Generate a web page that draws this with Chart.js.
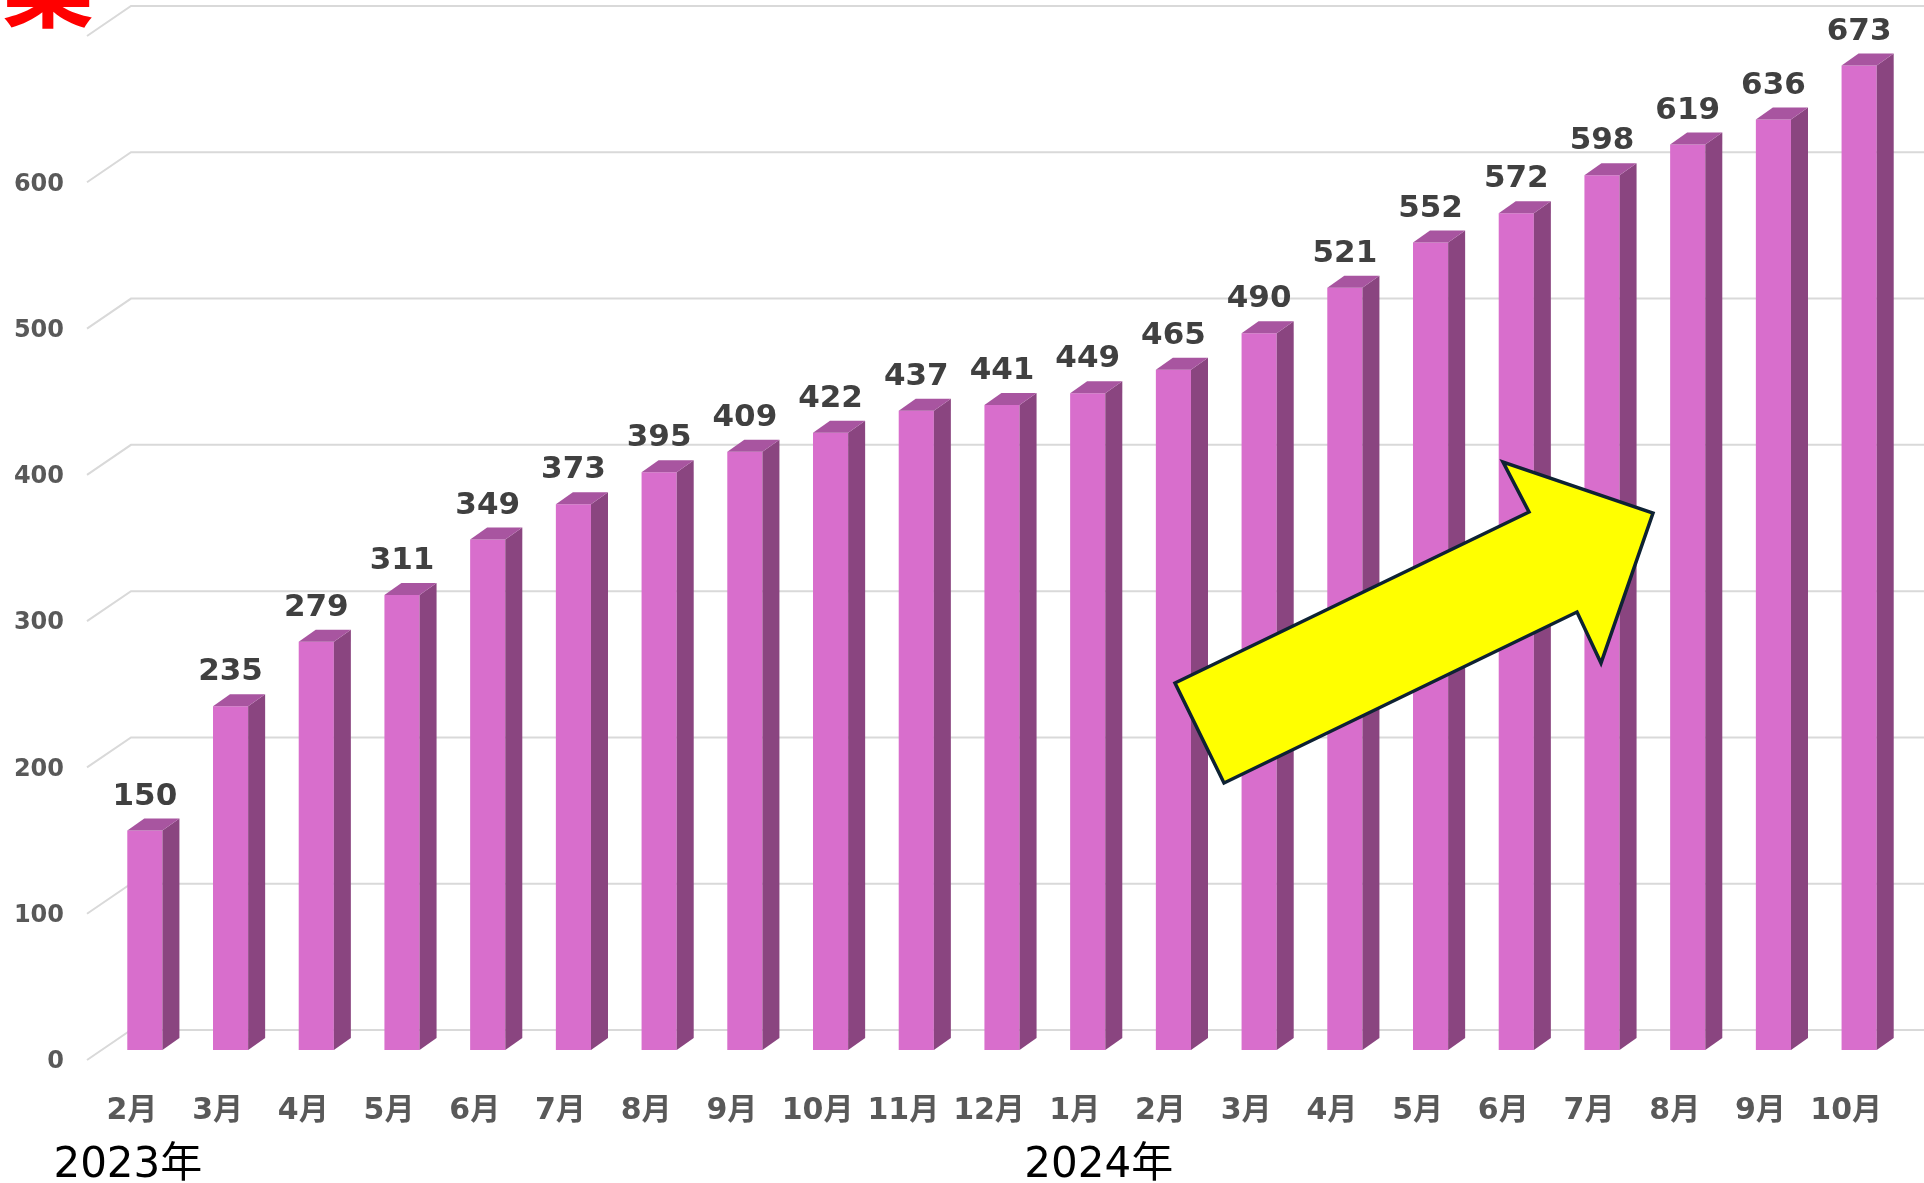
<!DOCTYPE html>
<html>
<head>
<meta charset="utf-8">
<script src="https://cdn.jsdelivr.net/npm/chart.js@4"></script>
<style>
  html, body { margin: 0; padding: 0; background: #fff; }
  #wrap { width: 1924px; height: 1183px; position: relative; }
</style>
</head>
<body>
<div id="wrap"><canvas id="barChart" width="1924" height="1183"></canvas></div>
<script>
// data
const months = ['2月', '3月', '4月', '5月', '6月', '7月', '8月', '9月', '10月', '11月', '12月',
  '1月', '2月', '3月', '4月', '5月', '6月', '7月', '8月', '9月', '10月'];
const counts = [150, 235, 279, 311, 349, 373, 395, 409, 422, 437, 441,
  449, 465, 490, 521, 552, 572, 598, 619, 636, 673];
const yearLabels = ['2023年', '2024年'];
const yearStartIdx = [0, 11];
const yTicks = [0, 100, 200, 300, 400, 500, 600];
const yMax = 700;

const frontColor = '#D86ECC';
const sideColor = '#8A4580';
const topColor = '#A855A0';
const gridColor = '#D9D9D9';
const DEPTH_X = 17, DEPTH_Y = 12;   // bar depth
const WALL_X = 44, WALL_Y = 30;     // floor / side wall depth

const numFont = '"DejaVu Sans", "Noto Sans CJK JP", sans-serif';

// back wall gridlines + slanted side wall + tick labels
const wallPlugin = {
  id: 'wall',
  beforeDatasetsDraw(chart) {
    const { ctx, scales: { y } } = chart;
    const x0 = 87;
    ctx.save();
    ctx.strokeStyle = gridColor;
    ctx.lineWidth = 2;
    [...yTicks, yMax].forEach(v => {
      const py = y.getPixelForValue(v);
      ctx.beginPath();
      ctx.moveTo(x0, py + 10);
      ctx.lineTo(x0 + WALL_X, py + 10 - WALL_Y);
      ctx.lineTo(chart.width, py + 10 - WALL_Y);
      ctx.stroke();
    });
    ctx.fillStyle = '#595959';
    ctx.font = 'bold 24px ' + numFont;
    ctx.textAlign = 'right';
    ctx.textBaseline = 'middle';
    yTicks.forEach(v => {
      ctx.fillText(String(v), 64, y.getPixelForValue(v) + 12);
    });
    ctx.restore();
  }
};

// side + top faces, value labels, category labels
const barsPlugin = {
  id: 'bars3d',
  afterDatasetsDraw(chart) {
    const { ctx } = chart;
    const meta = chart.getDatasetMeta(0);
    const xs = chart.scales.x;
    ctx.save();
    meta.data.forEach((bar, i) => {
      const { x, y, base, width } = bar.getProps(['x', 'y', 'base', 'width'], true);
      const l = x - width / 2, r = x + width / 2;
      ctx.fillStyle = sideColor;
      ctx.beginPath();
      ctx.moveTo(r, y);
      ctx.lineTo(r + DEPTH_X, y - DEPTH_Y);
      ctx.lineTo(r + DEPTH_X, base - DEPTH_Y);
      ctx.lineTo(r, base);
      ctx.closePath();
      ctx.fill();
      ctx.fillStyle = topColor;
      ctx.beginPath();
      ctx.moveTo(l, y);
      ctx.lineTo(l + DEPTH_X, y - DEPTH_Y);
      ctx.lineTo(r + DEPTH_X, y - DEPTH_Y);
      ctx.lineTo(r, y);
      ctx.closePath();
      ctx.fill();

      ctx.fillStyle = '#404040';
      ctx.font = 'bold 31px ' + numFont;
      ctx.textAlign = 'center';
      ctx.textBaseline = 'middle';
      ctx.fillText(String(counts[i]), x, y - 34);

      ctx.fillStyle = '#595959';
      ctx.font = 'bold 30px ' + numFont;
      ctx.fillText(months[i], x - 13, 1111);
    });

    ctx.fillStyle = '#000';
    ctx.font = '42px ' + numFont;
    ctx.textAlign = 'center';
    ctx.textBaseline = 'middle';
    ctx.fillText(yearLabels[0], xs.getPixelForValue(yearStartIdx[0]) - 17, 1166);
    ctx.fillText(yearLabels[1], xs.getPixelForValue(yearStartIdx[1]) + 11, 1166);
    ctx.restore();
  }
};

// yellow arrow annotation and the clipped red title glyph
const overlayPlugin = {
  id: 'overlay',
  afterDraw(chart) {
    const { ctx } = chart;
    ctx.save();
    const pts = [[1175, 683], [1529, 512], [1503, 462], [1653, 513], [1601, 663], [1577, 612], [1224, 783]];
    ctx.beginPath();
    pts.forEach(([px, py], k) => (k ? ctx.lineTo(px, py) : ctx.moveTo(px, py)));
    ctx.closePath();
    ctx.fillStyle = '#FFFF00';
    ctx.fill();
    ctx.lineWidth = 3.5;
    ctx.lineJoin = 'miter';
    ctx.strokeStyle = '#0E2233';
    ctx.stroke();

    ctx.fillStyle = '#FF0000';
    ctx.font = 'bold 92px "Noto Sans CJK JP", sans-serif';
    ctx.textAlign = 'left';
    ctx.textBaseline = 'alphabetic';
    ctx.fillText('業', 2, 20);
    ctx.restore();
  }
};

const ctx = document.getElementById('barChart').getContext('2d');
new Chart(ctx, {
  type: 'bar',
  data: {
    labels: months.map((m, i) => i + ':' + m),
    datasets: [{
      data: counts,
      backgroundColor: frontColor,
      borderWidth: 0,
      barPercentage: 0.41,
      categoryPercentage: 1
    }]
  },
  options: {
    responsive: false,
    animation: false,
    layout: { padding: { top: 26, bottom: 133, left: 102, right: 22 } },
    plugins: { legend: { display: false }, tooltip: { enabled: false } },
    scales: {
      x: { display: false },
      y: { display: false, min: 0, max: yMax }
    }
  },
  plugins: [wallPlugin, barsPlugin, overlayPlugin]
});
</script>
</body>
</html>
